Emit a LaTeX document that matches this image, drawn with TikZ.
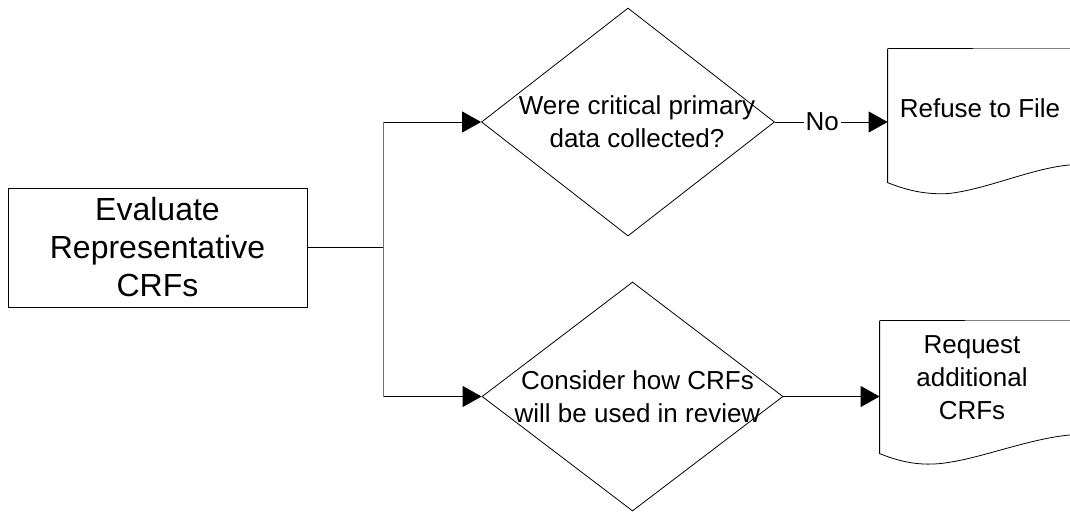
\documentclass[tikz,border=0pt]{standalone}
\usepackage{fontspec}
\setmainfont{Liberation Sans}
\usetikzlibrary{shapes.geometric,arrows.meta,positioning}
\begin{document}
\begin{tikzpicture}[x=1pt,y=-1pt,line width=0.8pt,
  box/.style={draw,rectangle,minimum width=299pt,minimum height=119pt,inner sep=0pt,align=center,font=\fontsize{32}{38}\selectfont},
  decision/.style={draw,diamond,inner sep=0pt},
  txt/.style={align=center,font=\fontsize{26}{33}\selectfont},
  docbox/.style={txt,rectangle,minimum width=184pt,inner sep=0pt},
  arrow/.style={-{Triangle[length=19pt,width=21pt]}},
  trunk/.style={line width=1.2pt,color=black!55}]
\clip (0,0) rectangle (1070,511);
\node[box] (eval) at (157.5,247.5) {Evaluate\\Representative\\CRFs};
\node[decision,minimum width=293pt,minimum height=228pt,
  label={[txt,xshift=9pt]center:Were critical primary\\data collected?}] (crit) at (628,122) {};
\node[decision,minimum width=301pt,minimum height=229pt,
  label={[txt,xshift=5pt]center:Consider how CRFs\\will be used in review}] (use) at (632.5,396.5) {};
\node[docbox,minimum height=118pt] (refuse) at (980,108) {Refuse to File};
\node[docbox,minimum height=114pt] (request) at (972,378) {Request\\additional\\CRFs};
\coordinate[right=76pt of eval.east] (split);

\draw (eval.east) -- (split);
\draw[arrow] (split|-crit.west) -- (crit.west);
\draw[arrow] (split|-use.west) -- (use.west);
\draw[trunk] (split|-crit.west) -- (split|-use.west);
\draw[arrow] (crit.east) -- node[txt,fill=white,inner sep=2pt,pos=0.42]{No} (crit.east-|refuse.west);
\draw[arrow] (use.east) -- (use.east-|request.west);

\draw (refuse.north west) -- ++(0,134) .. controls +(20,8) and +(-22,1) .. ++(60,11)
  .. controls +(40,-4) and +(-40,2) .. ++(127,-29);
\draw[line width=1.4pt] (refuse.north west) -- ++(85,0);
\draw[gray] (refuse.north west) ++(85,0) -- ++(110,0);
\draw (request.north west) -- ++(0,133) .. controls +(20,8) and +(-22,2) .. ++(60,10)
  .. controls +(40,-4) and +(-45,3) .. ++(135,-29);
\draw[line width=1.4pt] (request.north west) -- ++(85,0);
\draw[gray] (request.north west) ++(85,0) -- ++(110,0);
\end{tikzpicture}
\end{document}
